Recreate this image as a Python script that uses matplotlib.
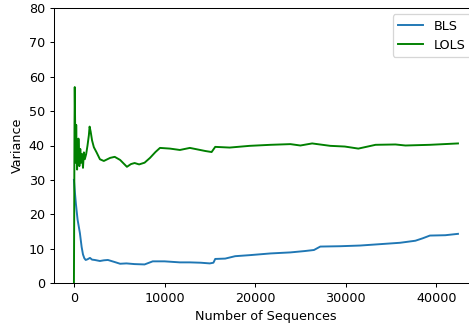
import matplotlib
matplotlib.use("Agg")
import matplotlib.pyplot as plt

# values
bls_x = [0, 60, 120, 220, 400, 660, 850, 1000, 1150, 1300, 1500, 1770, 2000, 2300,
         2870, 3300, 3750, 4500, 5100, 5800, 6700, 7800, 8700, 10000, 11700, 12800,
         14000, 15000, 15400, 15600, 16700, 17800, 19400, 21700, 23900, 25500, 26500,
         27200, 29400, 31600, 33800, 36000, 37700, 38500, 39300, 41000, 42400]
bls_y = [30.0, 28.0, 26.0, 23.0, 18.5, 14.5, 10.5, 8.3, 7.2, 6.7, 6.9, 7.3, 6.8, 6.7,
         6.4, 6.6, 6.7, 6.1, 5.6, 5.7, 5.5, 5.4, 6.3, 6.3, 6.0, 6.0,
         5.9, 5.7, 5.9, 7.0, 7.1, 7.8, 8.1, 8.6, 8.9, 9.3, 9.6,
         10.6, 10.7, 10.9, 11.3, 11.7, 12.3, 13.0, 13.8, 13.9, 14.3]

lols_x = [0, 30, 60, 90, 120, 150, 200, 250, 300, 350, 400, 450, 500, 600, 700,
          800, 900, 1000, 1100, 1200, 1350, 1500, 1650, 1730, 1850, 2000, 2200,
          2500, 2870, 3300, 4000, 4500, 5100, 5850, 6300, 6700, 7200, 7800, 8400,
          9000, 9500, 10600, 11700, 12800, 14500, 15200, 15600, 17200, 19400,
          21700, 23900, 25000, 26300, 28300, 29900, 31400, 33300, 35500, 36600,
          39300, 42400]
lols_y = [0.0, 20.0, 44.0, 57.0, 50.0, 42.0, 35.0, 46.0, 38.0, 33.0, 41.0, 36.0,
          42.0, 34.0, 39.0, 35.0, 37.5, 33.5, 38.0, 36.0, 37.5, 40.0, 43.0, 45.5,
          44.0, 41.5, 39.5, 38.0, 36.0, 35.5, 36.4, 36.7, 35.8, 33.8, 34.6, 34.9,
          34.5, 35.0, 36.4, 38.1, 39.3, 39.1, 38.7, 39.3, 38.4, 38.1, 39.6, 39.4,
          39.9, 40.2, 40.4, 40.0, 40.6, 39.9, 39.7, 39.1, 40.2, 40.3, 40.0, 40.2,
          40.6]

# the source figure was saved larger and shrunk, so draw at a lower dpi
dpi = 92
fig = plt.figure(figsize=(469 / dpi, 323 / dpi), dpi=dpi)
# the original figure was cropped on the right, so the axes run past the edge
ax = fig.add_axes([54 / 469, 40 / 323, 423 / 469, 275 / 323])

ax.plot(bls_x, bls_y, label="BLS")
ax.plot(lols_x, lols_y, color="green", label="LOLS")

ax.set_ylim(0, 80)
ax.set_xlim(-2200, 44500)
ax.set_xlabel("Number of Sequences")
ax.set_ylabel("Variance")
ax.legend(loc="upper right")

fig.savefig("out.png", dpi=dpi)
